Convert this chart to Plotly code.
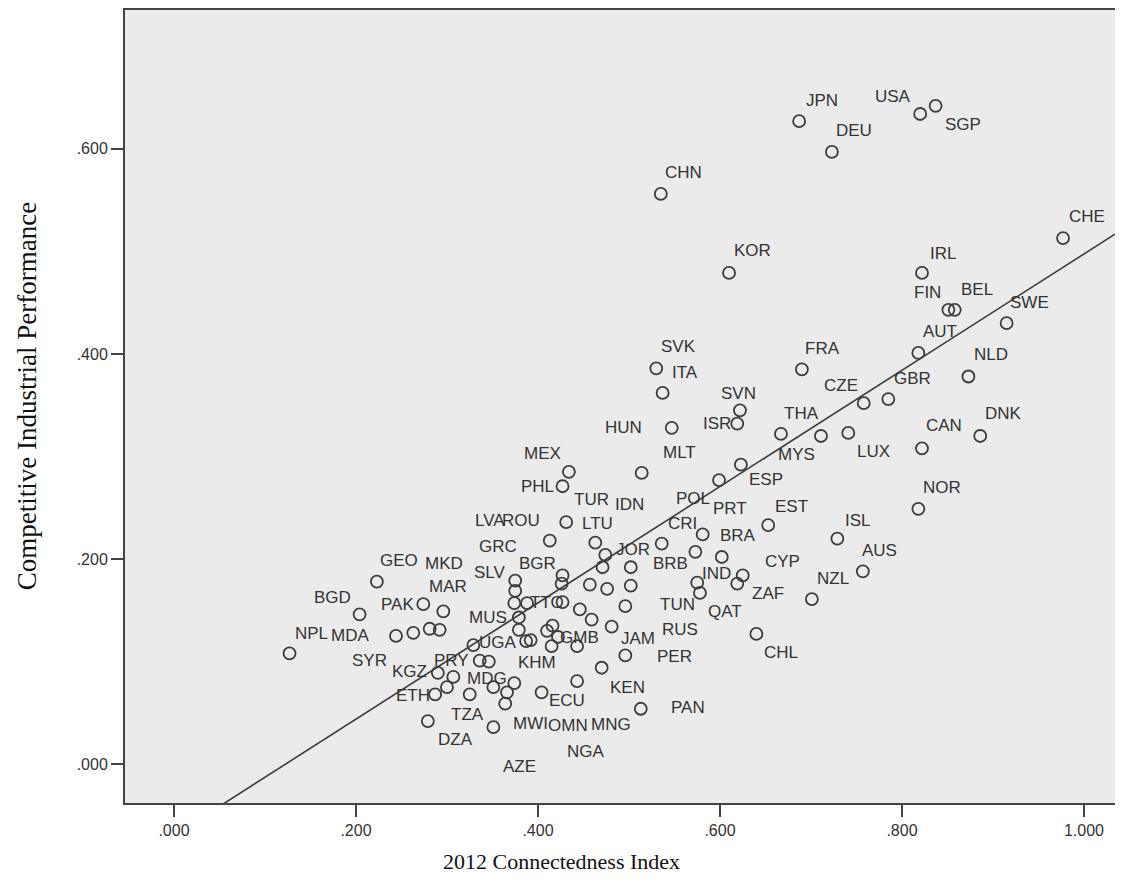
import plotly.graph_objects as go

# ---------------- data ----------------
codes = [
    "JPN", "DEU", "USA", "SGP", "CHN", "KOR", "CHE", "IRL", "FIN", "BEL",
    "SWE", "AUT", "NLD", "FRA", "SVK", "ITA", "SVN", "ISR", "HUN", "CZE",
    "GBR", "THA", "MYS", "LUX", "CAN", "DNK", "NOR", "ISL", "AUS", "NZL",
    "MLT", "MEX", "PHL", "ESP", "POL", "PRT", "CRI", "EST", "BRA", "CYP",
    "IND", "ZAF", "QAT", "BRB", "TUR", "LTU", "JOR", "IDN", "", "",
    "", "", "ROU", "BGR", "", "LVA", "GRC", "SLV", "TTO", "MUS",
    "", "UGA", "", "", "", "", "RUS", "TUN", "", "",
    "GMB", "NGA", "MNG", "JAM", "PER", "KEN", "ECU", "PAN", "CHL", "GEO",
    "BGD", "NPL", "MDA", "PAK", "SYR", "MAR", "MKD", "", "KGZ", "",
    "", "ETH", "PRY", "KHM", "", "MDG", "", "TZA", "DZA", "AZE",
    "MWI", "OMN",
]
connectedness = [
    0.687, 0.723, 0.820, 0.837, 0.535, 0.610, 0.977, 0.822, 0.851, 0.858,
    0.915, 0.818, 0.873, 0.690, 0.530, 0.537, 0.622, 0.619, 0.547, 0.758,
    0.785, 0.667, 0.711, 0.741, 0.822, 0.886, 0.818, 0.729, 0.757, 0.701,
    0.514, 0.434, 0.427, 0.623, 0.599, 0.581, 0.536, 0.653, 0.602, 0.625,
    0.578, 0.619, 0.575, 0.573, 0.431, 0.463, 0.474, 0.502, 0.471, 0.457,
    0.476, 0.502, 0.413, 0.427, 0.426, 0.375, 0.375, 0.374, 0.388, 0.379,
    0.379, 0.387, 0.392, 0.427, 0.446, 0.459, 0.481, 0.496, 0.410, 0.416,
    0.422, 0.415, 0.443, 0.496, 0.470, 0.443, 0.404, 0.513, 0.640, 0.223,
    0.204, 0.127, 0.244, 0.263, 0.281, 0.292, 0.296, 0.274, 0.290, 0.307,
    0.300, 0.287, 0.336, 0.346, 0.329, 0.351, 0.325, 0.279, 0.351, 0.364,
    0.366, 0.374,
]
cip = [
    0.627, 0.597, 0.634, 0.642, 0.556, 0.479, 0.513, 0.479, 0.443, 0.443,
    0.430, 0.401, 0.378, 0.385, 0.386, 0.362, 0.345, 0.332, 0.328, 0.352,
    0.356, 0.322, 0.320, 0.323, 0.308, 0.320, 0.249, 0.220, 0.188, 0.161,
    0.284, 0.285, 0.271, 0.292, 0.277, 0.224, 0.215, 0.233, 0.202, 0.184,
    0.167, 0.176, 0.177, 0.207, 0.236, 0.216, 0.204, 0.192, 0.192, 0.175,
    0.171, 0.174, 0.218, 0.184, 0.176, 0.179, 0.169, 0.157, 0.157, 0.143,
    0.131, 0.120, 0.121, 0.158, 0.151, 0.141, 0.134, 0.154, 0.130, 0.135,
    0.124, 0.115, 0.115, 0.106, 0.094, 0.081, 0.070, 0.054, 0.127, 0.178,
    0.146, 0.108, 0.125, 0.128, 0.132, 0.131, 0.149, 0.156, 0.089, 0.085,
    0.075, 0.068, 0.101, 0.100, 0.116, 0.075, 0.068, 0.042, 0.036, 0.059,
    0.070, 0.079,
]

x_tick_vals = [0.0, 0.2, 0.4, 0.6, 0.8, 1.0]
x_tick_text = [".000", ".200", ".400", ".600", ".800", "1.000"]
y_tick_vals = [0.0, 0.2, 0.4, 0.6]
y_tick_text = [".000", ".200", ".400", ".600"]

# linear fit line
fit_intercept = -0.0695
fit_slope = 0.567

# ---------------- styling / label placement (pixels) ----------------
X_RANGE = [-0.0538, 1.0341]
Y_RANGE = [-0.0379, 0.7354]
DEFAULT_OFFSET = (22, -21)
LABEL_OFFSETS = {
    "JPN": (23, -21), "DEU": (22, -21), "USA": (-27, -17), "SGP": (27, 19),
    "CHN": (23, -21), "KOR": (23, -22), "CHE": (24, -22), "IRL": (21, -19),
    "FIN": (-21, -17), "BEL": (22, -20), "SWE": (23, -21), "AUT": (22, -21),
    "NLD": (23, -22), "FRA": (21, -21), "SVK": (22, -22), "ITA": (22, -20),
    "SVN": (-1, -17), "ISR": (-20, 0), "HUN": (-48, 0), "CZE": (-23, -18),
    "GBR": (24, -21), "THA": (21, -20), "MYS": (-24, 19), "LUX": (25, 19),
    "CAN": (22, -23), "DNK": (23, -22), "NOR": (24, -21), "ISL": (21, -18),
    "AUS": (17, -21), "NZL": (21, -21), "MLT": (38, -20), "MEX": (-26, -18),
    "PHL": (-25, 0), "ESP": (25, 15), "POL": (-26, 18), "PRT": (27, -26),
    "CRI": (21, -20), "EST": (23, -19), "BRA": (16, -21), "CYP": (40, -14),
    "IND": (17, -19), "ZAF": (31, 10), "QAT": (28, 29), "BRB": (-25, 12),
    "TUR": (25, -23), "LTU": (2, -19), "JOR": (28, -5), "IDN": (-1, -63),
    "ROU": (-29, -20), "BGR": (-25, -12), "LVA": (-25, -60), "GRC": (-17, -44),
    "SLV": (-24, -31), "TTO": (20, -1), "MUS": (-31, 0), "UGA": (-28, 1),
    "RUS": (68, 3), "TUN": (52, -2), "GMB": (22, 1), "NGA": (34, 105),
    "MNG": (34, 78), "JAM": (13, -17), "PER": (73, -11), "KEN": (50, 6),
    "ECU": (25, 8), "PAN": (47, -1), "CHL": (25, 19), "GEO": (22, -21),
    "BGD": (-27, -17), "NPL": (22, -20), "MDA": (-46, 0), "PAK": (-16, -28),
    "SYR": (-60, 32), "MAR": (8, -43), "MKD": (1, -48), "KGZ": (-28, -1),
    "ETH": (-22, 1), "PRY": (-28, 0), "KHM": (48, 1), "MDG": (-6, -9),
    "TZA": (40, -7), "DZA": (-38, 12), "AZE": (14, 63), "MWI": (23, 31),
    "OMN": (54, 42),
}
INK = "#3c3c3c"
LABEL_FONT = dict(family="Liberation Sans, Arial, sans-serif", size=17, color="#333333")
TICK_FONT = dict(family="Liberation Sans, Arial, sans-serif", size=16, color="#333333")
SERIF = "Liberation Serif, Times New Roman, serif"

fig = go.Figure()

# regression line
fig.add_trace(go.Scatter(
    x=X_RANGE,
    y=[fit_intercept + fit_slope * v for v in X_RANGE],
    mode="lines",
    line=dict(color=INK, width=1.6),
    hoverinfo="skip",
    showlegend=False,
))

# points
fig.add_trace(go.Scatter(
    x=connectedness,
    y=cip,
    mode="markers",
    marker=dict(symbol="circle-open", size=12, color=INK, line=dict(width=1.8, color=INK)),
    text=codes,
    showlegend=False,
))

annotations = []
for c, xv, yv in zip(codes, connectedness, cip):
    if not c:
        continue
    dx, dy = LABEL_OFFSETS.get(c, DEFAULT_OFFSET)
    annotations.append(dict(
        x=xv, y=yv, xref="x", yref="y", text=c, showarrow=False,
        xshift=dx, yshift=-dy, font=LABEL_FONT,
        xanchor="center", yanchor="middle",
    ))

# axis titles
annotations.append(dict(
    x=0.4414, y=-0.0742, xref="paper", yref="paper",
    text="2012 Connectedness Index", showarrow=False,
    xanchor="center", yanchor="middle",
    font=dict(family=SERIF, size=22, color="#111111"),
))
annotations.append(dict(
    x=-0.099, y=0.513, xref="paper", yref="paper",
    text="Competitive Industrial Performance", showarrow=False,
    xanchor="center", yanchor="middle", textangle=-90,
    font=dict(family=SERIF, size=27, color="#111111"),
))

fig.update_layout(
    width=1107, height=878,
    margin=dict(l=117, r=0, t=0, b=83),
    paper_bgcolor="white",
    plot_bgcolor="#ebebeb",
    annotations=annotations,
    showlegend=False,
)
fig.update_xaxes(
    range=X_RANGE, tickvals=x_tick_vals, ticktext=x_tick_text,
    showgrid=False, zeroline=False,
    showline=True, linecolor="#444444", linewidth=2, mirror=True,
    ticks="outside", ticklen=12, tickwidth=2, tickcolor="#444444",
    tickfont=TICK_FONT,
)
fig.update_yaxes(
    range=Y_RANGE, tickvals=y_tick_vals, ticktext=y_tick_text,
    showgrid=False, zeroline=False,
    showline=True, linecolor="#444444", linewidth=2, mirror=False,
    ticks="outside", ticklen=12, tickwidth=2, tickcolor="#444444",
    tickfont=TICK_FONT,
)

fig.write_html("out.html")
